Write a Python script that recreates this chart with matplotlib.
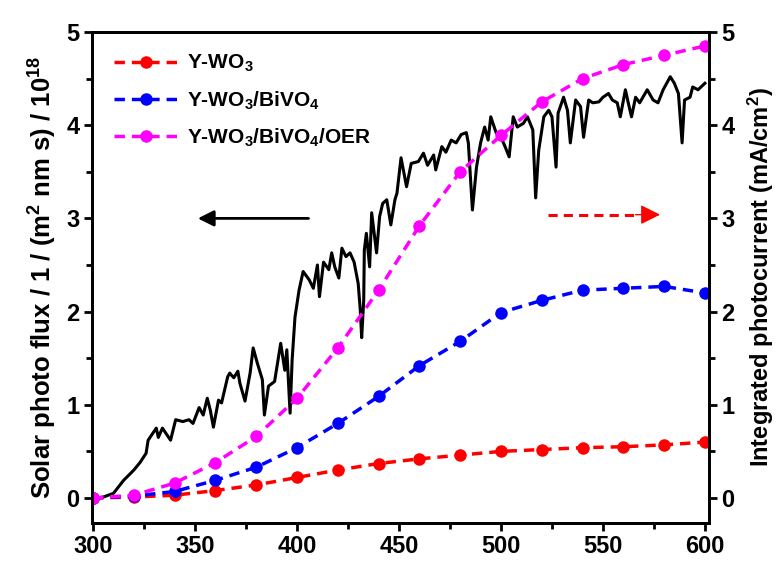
import matplotlib
matplotlib.use("Agg")
import matplotlib.pyplot as plt
from matplotlib.ticker import MultipleLocator

plt.rcParams['font.family'] = ['Liberation Sans', 'DejaVu Sans']
plt.rcParams['font.weight'] = 'bold'
plt.rcParams['mathtext.fontset'] = 'custom'
plt.rcParams['mathtext.rm'] = 'Liberation Sans:bold'
plt.rcParams['mathtext.bf'] = 'Liberation Sans:bold'
plt.rcParams['mathtext.default'] = 'bf'

# Solar photon flux (left axis, 1e18 /(m^2 nm s))
flux_wl = [300, 302, 305, 310, 315, 320, 323, 326, 327, 331, 332, 334, 338, 340.5, 344, 347, 349,
           352, 354, 356, 357.5, 359, 361.5, 363, 366, 367, 369, 371, 372, 374.5, 377, 378.5, 380.5,
           383, 384, 386, 389, 392, 394, 395, 396.6, 397.6, 399, 401, 403, 406, 408, 410, 411, 413,
           415.6, 417, 418.5, 420.5, 422, 424, 426, 428, 430, 431, 431.7, 432.7, 433, 434, 435.6,
           436.6, 439, 440.5, 442, 444, 446, 448, 449, 451, 453.7, 456, 459.5, 462, 464, 467, 468,
           471, 473, 475.6, 478, 480.5, 483, 484, 486, 488, 490, 492, 493.7, 495, 497.6, 500, 502,
           504, 506, 508, 511, 513, 515.6, 517, 518.5, 521, 523.4, 525, 527, 528, 530.7, 532.6, 534,
           536.6, 539, 540.5, 543, 545, 548, 550, 552.7, 554.6, 557, 558.5, 561, 562.4, 564, 566,
           568, 571.7, 574.6, 577, 579.5, 583, 585, 587, 588.8, 590, 592.7, 594, 596.6, 600]
flux_val = [0.0, 0.0, 0.01, 0.05, 0.19, 0.30, 0.38, 0.48, 0.62, 0.75, 0.65, 0.75, 0.62, 0.84, 0.82, 0.84, 0.80,
            0.97, 0.89, 1.07, 0.94, 0.76, 1.05, 1.02, 1.30, 1.34, 1.29, 1.36, 1.23, 1.04, 1.34, 1.61, 1.45,
            1.27, 0.89, 1.20, 1.25, 1.66, 1.37, 1.59, 0.91, 1.48, 1.94, 2.23, 2.43, 2.34, 2.25, 2.50, 2.16, 2.53,
            2.45, 2.63, 2.48, 2.36, 2.68, 2.59, 2.63, 2.53, 2.30, 2.02, 1.72, 2.12, 2.66, 2.84, 2.48,
            3.06, 2.63, 3.02, 3.16, 3.20, 2.93, 3.20, 3.27, 3.65, 3.34, 3.59, 3.61, 3.70, 3.57, 3.68, 3.52,
            3.77, 3.71, 3.84, 3.81, 3.90, 3.92, 3.81, 3.09, 3.55, 3.81, 3.98, 3.84, 4.09, 3.92, 3.87, 3.77,
            3.66, 4.09, 3.98, 4.02, 4.09, 3.95, 3.22, 3.73, 4.09, 4.16, 4.09, 3.55, 4.13, 4.30, 4.16, 3.81,
            4.27, 4.20, 3.87, 4.27, 4.24, 4.25, 4.30, 4.34, 4.27, 4.24, 4.09, 4.38, 4.24, 4.09, 4.30,
            4.24, 4.38, 4.27, 4.24, 4.38, 4.52, 4.45, 4.34, 3.81, 4.27, 4.30, 4.41, 4.38, 4.45]

# Integrated photocurrent (right axis, mA/cm^2)
wl = [300, 320, 340, 360, 380, 400, 420, 440, 460, 480, 500, 520, 540, 560, 580, 600]
j_wo3 = [0.0, 0.01, 0.03, 0.08, 0.14, 0.22, 0.30, 0.37, 0.42, 0.46, 0.50, 0.52, 0.54, 0.55, 0.57, 0.60]
j_bivo4 = [0.0, 0.02, 0.07, 0.19, 0.33, 0.54, 0.80, 1.09, 1.42, 1.68, 1.99, 2.12, 2.23, 2.25, 2.27, 2.20]
j_oer = [0.0, 0.03, 0.16, 0.38, 0.66, 1.07, 1.61, 2.23, 2.92, 3.50, 3.89, 4.25, 4.50, 4.65, 4.75, 4.85]
labels = [r'Y-WO$_3$', r'Y-WO$_3$/BiVO$_4$', r'Y-WO$_3$/BiVO$_4$/OER']
colors = ['#ff0000', '#0000ff', '#ff00ff']

fig = plt.figure(figsize=(7.8, 5.7), dpi=100)
ax = fig.add_axes([0.118, 0.0825, 0.791, 0.8614])
ax2 = ax.twinx()

ax.plot(flux_wl, flux_val, color='black', lw=2.2, zorder=2)

for y, lab, c in zip([j_wo3, j_bivo4, j_oer], labels, colors):
    ax2.plot(wl, y, ls=(0, (3, 2)), lw=2.5, color=c, marker='o', markersize=9,
             markeredgewidth=0, label=lab)

ax.set_xlim(299.5, 602)
ax.set_ylim(-0.268, 5)
ax2.set_ylim(-0.268, 5)

ax.xaxis.set_major_locator(MultipleLocator(50))
ax.xaxis.set_minor_locator(MultipleLocator(25))
for a in (ax, ax2):
    a.yaxis.set_major_locator(MultipleLocator(1))
    a.yaxis.set_minor_locator(MultipleLocator(0.5))
    a.tick_params(which='major', direction='out', length=6, width=2, labelsize=17, pad=3)
    a.tick_params(which='minor', direction='out', length=4, width=2)
    for s in a.spines.values():
        s.set_linewidth(2)

for t in ax.get_xticklabels() + ax.get_yticklabels() + ax2.get_yticklabels():
    t.set_fontweight('bold')

ax.set_ylabel(r'Solar photo flux / 1 / (m$^2$ nm s) / 10$^{18}$', fontsize=18.5, fontweight='bold', labelpad=5)
ax2.set_ylabel(r'Integrated photocurrent (mA/cm$^2$)', fontsize=17, fontweight='bold', labelpad=8)

leg = ax2.legend(loc='upper left', frameon=False, fontsize=15, handlelength=3.1,
                 borderaxespad=0.5, labelspacing=0.72, handletextpad=0.4,
                 bbox_to_anchor=(0.005, 0.995))
for t in leg.get_texts():
    t.set_fontweight('bold')

# direction arrows
ax.annotate('', xy=(350, 3.0), xytext=(407, 3.0),
            arrowprops=dict(arrowstyle='-|>', lw=2, color='black', mutation_scale=24))
ax2.plot([523, 567], [3.04, 3.04], ls=(0, (3, 2)), lw=2.2, color='#ff0000')
ax2.annotate('', xy=(578, 3.04), xytext=(566, 3.04),
             arrowprops=dict(arrowstyle='-|>', lw=1, color='#ff0000',
                             mutation_scale=30, shrinkA=0, shrinkB=0))

fig.savefig('out.png', dpi=100)
